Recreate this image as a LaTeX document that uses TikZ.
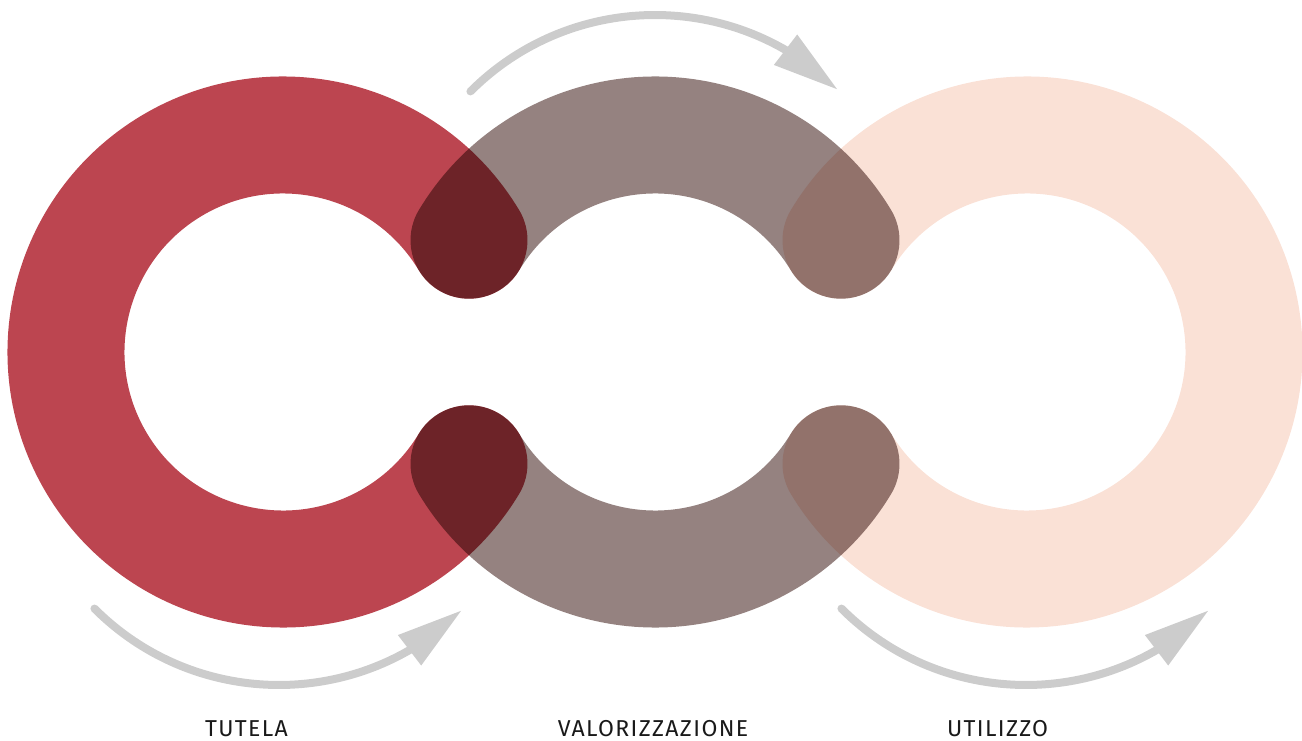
\documentclass[tikz,border=0pt]{standalone}
\usepackage{fontspec}
\setmainfont{Fira Sans}
\newfontfamily\capfont{Fira Sans}[LetterSpace=6]
\usetikzlibrary{arrows.meta,bending,calc}
\definecolor{tutela}{RGB}{188,69,80}
\definecolor{valor}{RGB}{149,130,128}
\definecolor{utilizzo}{RGB}{250,225,214}
\definecolor{arrowgray}{RGB}{204,204,204}
\begin{document}
\begin{tikzpicture}[x=1pt,y=1pt,
  ringband/.style={line width=117pt, line cap=round, blend mode=multiply},
  cyclearrow/.style={arrowgray, line width=8pt, line cap=round,
    -{Triangle[length=66pt,width=36pt,flex]}},
  caption/.style={anchor=base, inner sep=0pt, text=black!90,
    font=\capfont\fontsize{23}{27}\selectfont}]
\useasboundingbox (0,0) rectangle (1302,740);

% ring centres
\coordinate (cT) at (283,388);
\coordinate (cV) at (655,388);
\coordinate (cU) at (1027,388);

% thick ring bands, overlapping caps darken by multiplication
\draw[ringband, tutela]   ($(cT)+(31:217pt)$)  arc[start angle=31,  end angle=329, radius=217pt];
\draw[ringband, valor]    ($(cV)+(149:217pt)$) arc[start angle=149, end angle=31,  radius=217pt];
\draw[ringband, valor]    ($(cV)+(211:217pt)$) arc[start angle=211, end angle=329, radius=217pt];
\draw[ringband, utilizzo] ($(cU)+(149:217pt)$) arc[start angle=149, end angle=-149, radius=217pt];

% curved process arrows
\coordinate (aTop) at (655,464);
\coordinate (aLeft) at (279,316);
\coordinate (aRight) at (1026,316);
\draw[cyclearrow] ($(aTop)+(135:261pt)$)   arc[start angle=135, end angle=45.5,  radius=261pt];
\draw[cyclearrow] ($(aLeft)+(225:261pt)$)  arc[start angle=225, end angle=314.5, radius=261pt];
\draw[cyclearrow] ($(aRight)+(225:261pt)$) arc[start angle=225, end angle=314.5, radius=261pt];

% captions
\node[caption] (lT) at (246.5,3.5) {TUTELA};
\node[caption] (lV) at (653,3.5) {VALORIZZAZIONE};
\node[caption] (lU) at (997.5,3.5) {UTILIZZO};
\end{tikzpicture}
\end{document}
